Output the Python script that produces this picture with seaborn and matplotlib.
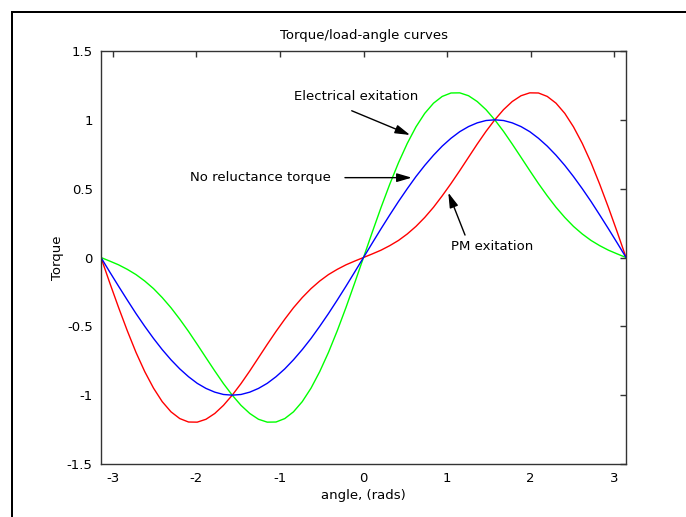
import matplotlib
matplotlib.use("Agg")
import matplotlib.pyplot as plt
import matplotlib.patches as mpatches
import seaborn as sns
import pandas as pd

# ---- data ----
angle = [-3.142, -3.037, -2.932, -2.827, -2.723, -2.618, -2.513, -2.409, -2.304, -2.199,
         -2.094, -1.990, -1.885, -1.780, -1.676, -1.571, -1.466, -1.361, -1.257, -1.152,
         -1.047, -0.942, -0.838, -0.733, -0.628, -0.524, -0.419, -0.314, -0.209, -0.105,
         0.0,
         0.105, 0.209, 0.314, 0.419, 0.524, 0.628, 0.733, 0.838, 0.942, 1.047,
         1.152, 1.257, 1.361, 1.466, 1.571, 1.676, 1.780, 1.885, 1.990, 2.094,
         2.199, 2.304, 2.409, 2.513, 2.618, 2.723, 2.827, 2.932, 3.037, 3.142]

no_reluctance = [0.0, -0.105, -0.208, -0.309, -0.407, -0.5, -0.588, -0.669, -0.743, -0.809,
                 -0.866, -0.914, -0.951, -0.978, -0.995, -1.0, -0.995, -0.978, -0.951, -0.914,
                 -0.866, -0.809, -0.743, -0.669, -0.588, -0.5, -0.407, -0.309, -0.208, -0.105,
                 0.0,
                 0.105, 0.208, 0.309, 0.407, 0.5, 0.588, 0.669, 0.743, 0.809, 0.866,
                 0.914, 0.951, 0.978, 0.995, 1.0, 0.995, 0.978, 0.951, 0.914, 0.866,
                 0.809, 0.743, 0.669, 0.588, 0.5, 0.407, 0.309, 0.208, 0.105, 0.0]

electrical = [0.0, -0.026, -0.053, -0.086, -0.124, -0.171, -0.226, -0.291, -0.365, -0.448,
              -0.537, -0.631, -0.728, -0.824, -0.916, -1.0, -1.074, -1.133, -1.175, -1.196,
              -1.195, -1.170, -1.121, -1.047, -0.949, -0.829, -0.689, -0.532, -0.362, -0.184,
              0.0,
              0.184, 0.362, 0.532, 0.689, 0.829, 0.949, 1.047, 1.121, 1.170, 1.195,
              1.196, 1.175, 1.133, 1.074, 1.0, 0.916, 0.824, 0.728, 0.631, 0.537,
              0.448, 0.365, 0.291, 0.226, 0.171, 0.124, 0.086, 0.053, 0.026, 0.0]

pm = [0.0, -0.184, -0.362, -0.532, -0.689, -0.829, -0.949, -1.047, -1.121, -1.170,
      -1.195, -1.196, -1.175, -1.133, -1.074, -1.0, -0.916, -0.824, -0.728, -0.631,
      -0.537, -0.448, -0.365, -0.291, -0.226, -0.171, -0.124, -0.086, -0.053, -0.026,
      0.0,
      0.026, 0.053, 0.086, 0.124, 0.171, 0.226, 0.291, 0.365, 0.448, 0.537,
      0.631, 0.728, 0.824, 0.916, 1.0, 1.074, 1.133, 1.175, 1.196, 1.195,
      1.170, 1.121, 1.047, 0.949, 0.829, 0.689, 0.532, 0.362, 0.184, 0.0]

x_ticks = [-3, -2, -1, 0, 1, 2, 3]
x_tick_labels = ["-3", "-2", "-1", "0", "1", "2", "3"]
y_ticks = [-1.5, -1, -0.5, 0, 0.5, 1, 1.5]
y_tick_labels = ["-1.5", "-1", "-0.5", "0", "0.5", "1", "1.5"]

df = pd.concat([
    pd.DataFrame({"angle": angle, "torque": pm, "curve": "PM exitation"}),
    pd.DataFrame({"angle": angle, "torque": electrical, "curve": "Electrical exitation"}),
    pd.DataFrame({"angle": angle, "torque": no_reluctance, "curve": "No reluctance torque"}),
], ignore_index=True)

sns.set_style("white")
plt.rcParams["font.family"] = ["DejaVu Sans"]
plt.rcParams["axes.unicode_minus"] = False
plt.rcParams["text.color"] = "black"
plt.rcParams["axes.labelcolor"] = "black"
plt.rcParams["xtick.color"] = "black"
plt.rcParams["ytick.color"] = "black"

FS = 9.5
W, H = 686, 517
fig = plt.figure(figsize=(W / 100, H / 100), dpi=100)
fig.patch.set_facecolor("white")

# outer frame of the screenshot: only left and top edges are visible (thin filled bars)
bar = 2.0
fig.patches.append(mpatches.Rectangle((10.5 / W, 0.0), bar / W, 1 - 10.5 / H,
                                      transform=fig.transFigure, facecolor="black",
                                      edgecolor="none", linewidth=0))
fig.patches.append(mpatches.Rectangle((10.5 / W, 1 - 12.5 / H), 1 - 10.5 / W, bar / H,
                                      transform=fig.transFigure, facecolor="black",
                                      edgecolor="none", linewidth=0))

ax = fig.add_axes([101 / W, 1 - 464 / H, (626 - 101) / W, (464 - 51) / H])

palette = {"PM exitation": "#ff0000", "Electrical exitation": "#00ff00",
           "No reluctance torque": "#0000ff"}
sns.lineplot(data=df, x="angle", y="torque", hue="curve", palette=palette,
             estimator=None, sort=False, legend=False, linewidth=1.0, ax=ax)

ax.set_xlim(-3.1416, 3.1416)
ax.set_ylim(-1.5, 1.5)
ax.set_xticks(x_ticks)
ax.set_xticklabels(x_tick_labels)
ax.set_yticks(y_ticks)
ax.set_yticklabels(y_tick_labels)
ax.tick_params(direction="in", top=True, right=True, length=4, width=1,
               color="#333333", labelcolor="black", labelsize=FS, pad=6)
for s in ax.spines.values():
    s.set_color("#333333")
    s.set_linewidth(1.0)

ax.set_title("Torque/load-angle curves", fontsize=FS, pad=9, color="black")
ax.set_xlabel("angle, (rads)", fontsize=FS, labelpad=3)
ax.set_ylabel("Torque", fontsize=FS, labelpad=2)

arrow_kw = dict(arrowstyle="-|>,head_length=0.75,head_width=0.22", color="black",
                lw=1.0, mutation_scale=12, shrinkA=0, shrinkB=0)

ax.text(-0.09, 1.166, "Electrical exitation", ha="center", va="center", fontsize=FS)
ax.annotate("", xy=(0.557, 0.890), xytext=(-0.141, 1.066), arrowprops=arrow_kw)

ax.text(-1.239, 0.5775, "No reluctance torque", ha="center", va="center", fontsize=FS)
ax.annotate("", xy=(0.577, 0.58), xytext=(-0.222, 0.58), arrowprops=arrow_kw)

ax.text(1.544, 0.0785, "PM exitation", ha="center", va="center", fontsize=FS)
ax.annotate("", xy=(1.015, 0.471), xytext=(1.215, 0.163), arrowprops=arrow_kw)

fig.savefig("out.png", dpi=100)
